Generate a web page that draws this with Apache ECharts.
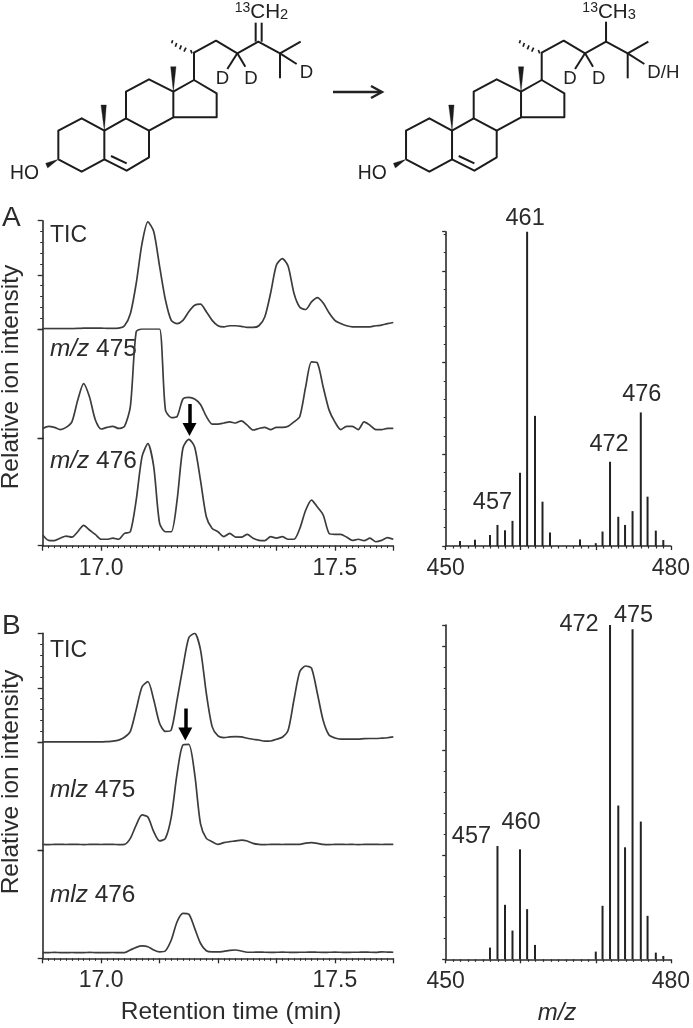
<!DOCTYPE html>
<html>
<head>
<meta charset="utf-8">
<style>
  html, body { margin: 0; padding: 0; background: #fff; }
  #chart { width: 693px; height: 1028px; }
</style>
<script src="https://cdn.jsdelivr.net/npm/echarts@6/dist/echarts.min.js"></script>
</head>
<body>
<div id="chart"></div>
<script>
// retention time columns (min), shared by all six traces
const retentionTimes = [16.875, 16.8875, 16.9, 16.9125, 16.925, 16.9375, 16.95, 16.9625, 16.975, 16.9875,
  17.0, 17.0125, 17.025, 17.0375, 17.05, 17.0625, 17.075, 17.0875, 17.1, 17.1125,
  17.125, 17.1375, 17.15, 17.1625, 17.175, 17.1875, 17.2, 17.2125, 17.225, 17.2375,
  17.25, 17.2625, 17.275, 17.2875, 17.3, 17.3125, 17.325, 17.3375, 17.35, 17.3625,
  17.375, 17.3875, 17.4, 17.4125, 17.425, 17.4375, 17.45, 17.4625, 17.475, 17.4875,
  17.5, 17.5125, 17.525, 17.5375, 17.55, 17.5625, 17.575, 17.5875, 17.6, 17.6125, 17.625]

// panel A traces, relative intensity
const ticA = [0.3, 0.3, 0.3, 0.3, 0.3, 0.4, 0.5, 0.8, 0.9, 0.8,
  0.8, 0.6, 0.6, 0.8, 3, 14, 42, 79, 99, 90,
  58, 27, 8, 5, 8, 16, 22, 23, 16, 8,
  3, 2, 3, 3, 2.5, 1.5, 1.5, 3, 11, 33,
  59, 65, 58, 33, 20, 18, 25, 29, 24, 15,
  8, 5, 3, 2, 2, 2, 2, 3, 3.5, 5, 6]
const mz475A = [9, 11, 10, 8, 10, 15, 35, 50, 38, 17,
  8.5, 10, 11, 9, 11, 29, 97.5, 100, 100, 100,
  100, 26, 19, 20, 36, 37.5, 36, 31, 20, 13,
  13, 14, 15, 14, 16, 12, 7.6, 9, 10, 8,
  10, 10, 11, 15, 20, 47, 70, 69, 47, 26,
  15, 8, 11, 11, 8, 15, 12, 8, 8, 9, 9]
const mz476A = [10, 5, 4.7, 7, 9, 8, 13, 19, 14.6, 10.5,
  6, 6, 7, 6, 11.5, 13, 42.5, 83, 95, 73.6,
  21, 13, 13, 42.5, 91, 99, 92, 61, 27, 16,
  13, 8.4, 11.5, 8, 8, 10.5, 7, 5, 4.7, 8.4,
  7, 8.4, 6, 6, 16, 33, 42.5, 36, 28.6, 11.5,
  10.5, 10.5, 8, 5, 6, 4.7, 7, 3.7, 5, 7.5, 6]

// panel B traces, relative intensity
const ticB = [0.3, 0.3, 0.3, 0.3, 0.3, 0.3, 0.3, 0.3, 0.3, 0.3,
  0.3, 0.6, 1, 2, 4.6, 10, 30, 51, 55.6, 39,
  17.5, 10, 11.3, 39, 69, 96, 100, 85, 45, 14.4,
  5.8, 4.3, 4.9, 5.2, 4.9, 3.7, 2.8, 2.1, 1, 1.2,
  2.8, 4.6, 11, 39, 65, 70, 68, 45, 20, 6.7,
  4, 3, 3, 3, 3, 3.4, 3.5, 3.5, 3.8, 4.2, 4.9]
const mz475B = [5.8, 5.6, 5.8, 5.9, 5.7, 5.8, 5.8, 5.6, 5.8, 5.9,
  5.7, 5.8, 5.8, 5.6, 5.8, 11.4, 23.7, 33, 31, 17.5,
  9, 11.4, 31, 71, 97.5, 98, 71, 25, 11.4, 8.3,
  5.8, 7.4, 8.3, 9, 9.8, 9, 6.8, 5.8, 5.6, 5.8,
  5.9, 5.7, 5.8, 5.8, 5.8, 7, 7.4, 6.8, 5.8, 5.6,
  5.8, 5.9, 5.7, 5.8, 5.6, 5.8, 5.9, 5.8, 5.7, 5.8, 5.8]
const mz476B = [5.3, 5.3, 5.5, 5.3, 5.2, 5.4, 5.3, 5.3, 5.5, 5.3,
  5.2, 5.3, 5.4, 5.3, 5.3, 7.7, 10.2, 11.5, 10.8, 7.7,
  5.9, 7, 17, 34, 41.8, 41, 28, 14, 7, 6,
  6, 6.5, 7.4, 7.7, 6.8, 5.6, 5.6, 5.8, 5.6, 5.5,
  5.6, 5.7, 5.6, 5.5, 5.6, 5.6, 5.8, 5.6, 5.5, 5.6,
  5.7, 5.6, 5.5, 5.6, 5.6, 5.8, 5.6, 5.5, 6, 5.8, 5.6]

// mass spectra
const massA = [451.9, 453.9, 455.9, 456.9, 457.9, 458.9, 459.9, 460.85, 461.9, 462.9, 463.9, 467.9, 470, 470.9, 471.9, 473, 473.9, 474.9, 476, 476.9, 478, 479]
const spectrumA = [1.6, 2, 3.5, 6.7, 5, 8, 23.3, 100, 41.4, 14.1, 4.3, 2.1, 0.9, 4.6, 26.8, 9.3, 6.7, 11.1, 42.5, 15.7, 4.9, 1.9]
const massB = [455.9, 456.9, 457.9, 458.9, 459.9, 460.85, 461.9, 470, 470.9, 471.9, 473, 473.9, 474.9, 476, 476.9, 478, 479]
const spectrumB = [3.5, 33.9, 16.3, 8.6, 32.9, 15, 4.3, 2.3, 16, 100, 46, 33.5, 98.7, 41.2, 13, 2, 1]
const peakLabelsA = [457, 461, 472, 476]
const peakLabelsB = [457, 460, 472, 475]

const INK = '#2b2b2b'
const TRACE = '#3c3c3c'
const FONT = '"Liberation Sans", Arial, sans-serif'

const labelNudge = {
  A457: [-5, -10], A461: [-2, -1], A472: [-1, -5], A476: [1, -6],
  B457: [-26, 3], B460: [1, -15], B472: [-31, 12], B475: [1, -2]
}

function toPairs(values) {
  return retentionTimes.map((t, i) => [t, values[i]])
}

const grids = []
const xAxes = []
const yAxes = []
const series = []

function axisLine() {
  return { show: true, onZero: false, lineStyle: { color: INK, width: 1.6 } }
}

// one stacked trace: gets its own grid so its y axis runs 0-100
function addTrace(values, top, height, opts) {
  const idx = grids.length
  grids.push({ left: 42.7, top, width: 350.6, height })
  xAxes.push({
    gridIndex: idx,
    type: 'value',
    min: 16.875,
    max: 17.625,
    interval: 0.125,
    show: !!opts.showX,
    axisLine: axisLine(),
    axisTick: { show: true, length: 5, lineStyle: { color: INK, width: 1.3 } },
    minorTick: { show: true, splitNumber: 10, length: 2.5, lineStyle: { color: INK, width: 1 } },
    splitLine: { show: false },
    axisLabel: {
      margin: 11,
      fontSize: 23,
      fontFamily: FONT,
      color: INK,
      formatter: v => (Math.abs(v - 17) < 1e-6 || Math.abs(v - 17.5) < 1e-6) ? v.toFixed(1) : ''
    }
  })
  yAxes.push({
    gridIndex: idx,
    type: 'value',
    min: 0,
    max: 100,
    interval: opts.minor ? 50 : 100,
    axisLine: axisLine(),
    axisTick: { show: true, length: 5, lineStyle: { color: INK, width: 1.3 } },
    minorTick: { show: !!opts.minor, splitNumber: 5, length: 2.5, lineStyle: { color: INK, width: 1 } },
    splitLine: { show: false },
    axisLabel: { show: false }
  })
  const s = {
    type: 'line',
    xAxisIndex: idx,
    yAxisIndex: idx,
    data: toPairs(values),
    showSymbol: false,
    smooth: 0.25,
    clip: true,
    silent: true,
    lineStyle: { color: TRACE, width: 1.7 },
    z: 3
  }
  if (opts.arrow) {
    s.markLine = {
      silent: true,
      animation: false,
      symbol: ['none', 'triangle'],
      symbolSize: [14, 13],
      label: { show: false },
      lineStyle: { color: '#000', width: 3.5, type: 'solid' },
      data: [[{ coord: [opts.arrow[0], opts.arrow[1]] }, { coord: [opts.arrow[0], opts.arrow[2]] }]]
    }
  }
  series.push(s)
}

function addSpectrum(panel, masses, values, labelled, top, height, majorStep) {
  const idx = grids.length
  grids.push({ left: 445.7, top, width: 227.6, height })
  xAxes.push({
    gridIndex: idx,
    type: 'value',
    min: 450,
    max: 480,
    interval: 10,
    axisLine: axisLine(),
    axisTick: { show: true, length: 4, lineStyle: { color: INK, width: 1.3 } },
    minorTick: { show: true, splitNumber: 10, length: 2.5, lineStyle: { color: INK, width: 1.2 } },
    splitLine: { show: false },
    axisLabel: {
      margin: 11,
      fontSize: 23,
      fontFamily: FONT,
      color: INK,
      formatter: v => (v === 450 || v === 480) ? String(v) : ''
    }
  })
  yAxes.push({
    gridIndex: idx,
    type: 'value',
    min: 0,
    max: 100,
    interval: majorStep,
    axisLine: axisLine(),
    axisTick: { show: true, length: 3.5, lineStyle: { color: INK, width: 1.3 } },
    minorTick: { show: true, splitNumber: 5, length: 2, lineStyle: { color: INK, width: 1 } },
    splitLine: { show: false },
    axisLabel: { show: false }
  })
  series.push({
    type: 'bar',
    xAxisIndex: idx,
    yAxisIndex: idx,
    barWidth: 2,
    silent: true,
    itemStyle: { color: '#222' },
    data: masses.map((m, i) => {
      const mass = Math.round(m)
      const item = { value: [m, values[i]] }
      if (labelled.indexOf(mass) !== -1) {
        item.label = {
          show: true,
          position: 'top',
          distance: 0,
          offset: labelNudge[panel + mass],
          formatter: String(mass),
          fontSize: 23.5,
          fontFamily: FONT,
          color: INK
        }
      }
      return item
    })
  })
}

addTrace(ticA, 220.7, 108.3, { minor: true })
addTrace(mz475A, 329, 109.3, { arrow: [17.189, 31.4, 8] })
addTrace(mz476A, 438.3, 107.4, { showX: true })
addTrace(ticB, 633.3, 109, { minor: true, arrow: [17.18, 31, 7.6] })
addTrace(mz475B, 742.3, 108.4, {})
addTrace(mz476B, 850.7, 107.6, { showX: true })
addSpectrum('A', massA, spectrumA, peakLabelsA, 231.7, 314.3, 29.16)
addSpectrum('B', massB, spectrumB, peakLabelsB, 625, 334.3, 31.2)

// sterol skeleton, drawn at 3x and scaled down in the group
const skeletonBonds = [
  [[175, 478], [175, 392], [245, 355], [313, 392], [313, 478], [245, 515], [175, 478]],
  [[313, 392], [378, 355], [447, 392], [447, 472], [380, 512], [313, 478]],
  [[333, 468], [380, 490]],
  [[378, 355], [378, 275], [447, 238], [520, 275], [520, 352], [447, 392]],
  [[520, 275], [582, 240], [650, 280], [650, 352], [520, 352]],
  [[582, 240], [582, 158], [648, 122], [712, 160], [775, 125], [840, 160], [902, 125]],
  [[840, 160], [840, 235]],
  [[840, 160], [890, 192]],
  [[712, 160], [682, 207]],
  [[712, 160], [736, 200]]
]
const wedges = [
  [[313, 392], [303, 315], [319, 315]],
  [[520, 275], [512, 200], [528, 200]],
  [[175, 478], [137, 490], [143, 504]]
]
const hashes = [
  [[572, 150], [576, 160]], [[558, 143], [552, 155]], [[544, 136], [539, 148]], [[530, 129], [526, 140]], [[518, 121], [515, 130]]
]

function molecule(dx, kind) {
  const kids = []
  skeletonBonds.forEach(b => kids.push({
    type: 'polyline',
    shape: { points: b },
    style: { stroke: '#1c1c1c', lineWidth: 6, fill: null, lineJoin: 'round' }
  }))
  wedges.forEach(w => kids.push({
    type: 'polygon',
    shape: { points: w },
    style: { fill: '#1c1c1c', stroke: '#1c1c1c', lineWidth: 1 }
  }))
  hashes.forEach(h => kids.push({
    type: 'line',
    shape: { x1: h[0][0], y1: h[0][1], x2: h[1][0], y2: h[1][1] },
    style: { stroke: '#1c1c1c', lineWidth: 5 }
  }))
  if (kind === 'alkene') {
    kids.push({ type: 'line', shape: { x1: 767, y1: 125, x2: 767, y2: 68 }, style: { stroke: '#1c1c1c', lineWidth: 6 } })
    kids.push({ type: 'line', shape: { x1: 785, y1: 125, x2: 785, y2: 68 }, style: { stroke: '#1c1c1c', lineWidth: 6 } })
  } else {
    kids.push({ type: 'line', shape: { x1: 775, y1: 125, x2: 775, y2: 65 }, style: { stroke: '#1c1c1c', lineWidth: 6 } })
  }
  const txt = (x, y, text, size) => kids.push({
    type: 'text',
    x, y,
    style: {
      text,
      verticalAlign: 'middle',
      fontSize: size || 56,
      fontFamily: FONT,
      fill: '#222',
      rich: { up: { fontSize: 42, fontFamily: FONT, fill: '#222', padding: [0, 0, 24, 0] },
              dn: { fontSize: 44, fontFamily: FONT, fill: '#222', padding: [20, 0, 0, 0] },
              n: { fontSize: 62, fontFamily: FONT, fill: '#222' } }
    }
  })
  txt(30, 520, 'HO', 58)
  txt(647, 238, 'D')
  txt(733, 238, 'D')
  txt(899, 218, kind === 'alkene' ? 'D' : 'D/H')
  txt(704, 36, kind === 'alkene' ? '{up|13}{n|CH}{dn|2}' : '{up|13}{n|CH}{dn|3}')
  return { type: 'group', x: dx, y: 0, scaleX: 1 / 3, scaleY: 1 / 3, children: kids }
}

function label(x, y, text, size) {
  return {
    type: 'text',
    x, y,
    style: {
      text,
      fontSize: size || 23,
      fontFamily: FONT,
      fill: INK,
      verticalAlign: 'bottom',
      rich: {
        i: { fontStyle: 'italic', fontSize: size || 23, fontFamily: FONT, fill: INK },
        r: { fontSize: size || 23, fontFamily: FONT, fill: INK }
      }
    }
  }
}

function sideTitle(y) {
  return {
    type: 'text',
    x: 11,
    y,
    rotation: Math.PI / 2,
    style: {
      text: 'Relative ion intensity',
      align: 'center',
      verticalAlign: 'middle',
      fontSize: 24.5,
      fontFamily: FONT,
      fill: INK
    }
  }
}

const graphics = [
  molecule(0, 'alkene'),
  molecule(347.7, 'alkane'),
  // reaction arrow
  { type: 'line', shape: { x1: 333, y1: 92, x2: 381, y2: 92 }, style: { stroke: '#222', lineWidth: 2.4 } },
  { type: 'polyline', shape: { points: [[371, 86], [382, 92], [371, 98]] }, style: { stroke: '#222', lineWidth: 2.4, fill: null } },
  label(2, 232, 'A', 28),
  label(2, 640, 'B', 28),
  label(50, 247, 'TIC'),
  label(50, 361, '{i|m/z}{r| 475}', 24.4),
  label(50, 473, '{i|m/z}{r| 476}', 24.4),
  label(50, 662, 'TIC'),
  label(50, 802, '{i|mlz}{r| 475}', 24.4),
  label(50, 907, '{i|mlz}{r| 476}', 24.4),
  sideTitle(377),
  sideTitle(782),
  { type: 'text', x: 231, y: 1012, style: { text: 'Retention time (min)', align: 'center', verticalAlign: 'middle', fontSize: 24.5, fontFamily: FONT, fill: INK } },
  { type: 'text', x: 557, y: 1013, style: { text: 'm/z', align: 'center', verticalAlign: 'middle', fontSize: 24, fontStyle: 'italic', fontFamily: FONT, fill: INK } }
]

const myChart = echarts.init(document.getElementById('chart'), null, { renderer: 'canvas' })
myChart.setOption({
  animation: false,
  backgroundColor: '#fff',
  grid: grids,
  xAxis: xAxes,
  yAxis: yAxes,
  series,
  graphic: { elements: graphics }
})
</script>
</body>
</html>
